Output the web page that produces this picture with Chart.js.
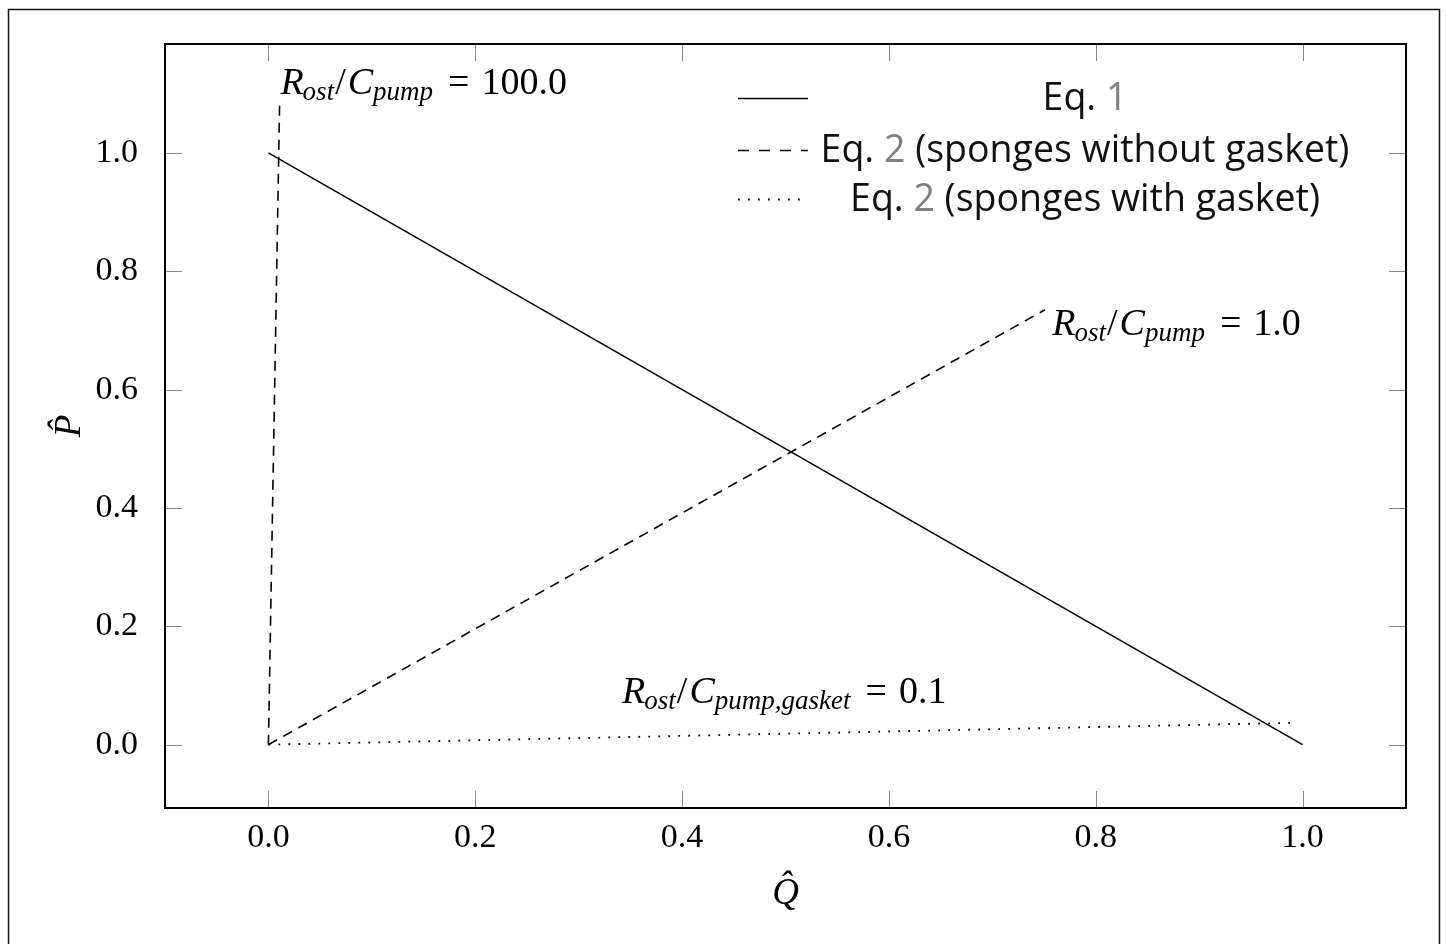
<!DOCTYPE html>
<html>
<head>
<meta charset="utf-8">
<script src="https://cdn.jsdelivr.net/npm/chart.js@4.4.0/dist/chart.umd.min.js"></script>
<style>
  html, body { margin: 0; padding: 0; background: #fff; }
</style>
</head>
<body>
<canvas id="chart" width="1446" height="944"></canvas>
<script>
// Eq. 1
const eq1Q = [0, 1];
const eq1P = [1, 0];
// Eq. 2 without gasket, R/C = 100
const steepQ = [0, 0.0108];
const steepP = [0, 1.08];
// Eq. 2 without gasket, R/C = 1
const midQ = [0, 0.751];
const midP = [0, 0.735];
// Eq. 2 with gasket, R/C = 0.1
const flatQ = [0, 0.993];
const flatP = [0, 0.037];

const xTicks = [0, 0.2, 0.4, 0.6, 0.8, 1.0];
const yTicks = [0, 0.2, 0.4, 0.6, 0.8, 1.0];

// legend: [before, gray number, after]
const legendLabels = [
  ['Eq. ', '1', ''],
  ['Eq. ', '2', ' (sponges without gasket)'],
  ['Eq. ', '2', ' (sponges with gasket)']
];

// annotations: anchor (data coords) + value text
const notes = [
  { q: 0.0116, p: 1.1, sub2: 'pump', val: '100.0' },
  { q: 0.758, p: 0.692, sub2: 'pump', val: '1.0' },
  { q: 0.342, p: 0.070, sub2: 'pump,gasket', val: '0.1' }
];

const toPts = (xs, ys) => xs.map((x, i) => ({ x: x, y: ys[i] }));

const SERIF = '"Liberation Serif", "Times New Roman", serif';
const SANS = '"Open Sans", "Noto Sans", sans-serif';

function drawMath(ctx, x, y, n) {
  const parts = [
    { t: 'R', it: true, gap: -1 },
    { t: 'ost', it: true, sub: true, gap: 1 },
    { t: '/', gap: 2 },
    { t: 'C', it: true },
    { t: n.sub2, it: true, sub: true, gap: 15 },
    { t: '=', gap: 12 },
    { t: n.val }
  ];
  let cx = x;
  ctx.fillStyle = '#000';
  ctx.textAlign = 'left';
  ctx.textBaseline = 'alphabetic';
  parts.forEach(p => {
    const size = p.sub ? 27 : 38;
    ctx.font = (p.it ? 'italic ' : '') + size + 'px ' + SERIF;
    ctx.fillText(p.t, cx, y + (p.sub ? 6 : 0));
    cx += ctx.measureText(p.t).width + (p.gap || 0);
  });
}

const extras = {
  id: 'extras',
  afterDraw(chart) {
    const ctx = chart.ctx;
    const a = chart.chartArea;
    const xs = chart.scales.x, ys = chart.scales.y;
    ctx.save();

    // outer frame
    ctx.strokeStyle = '#111';
    ctx.lineWidth = 1.5;
    ctx.strokeRect(8.5, 9.5, 1431, 960);

    // inside tick marks on all sides
    ctx.strokeStyle = '#888';
    ctx.lineWidth = 1;
    const tl = 17;
    xTicks.forEach(v => {
      const px = Math.round(xs.getPixelForValue(v)) + 0.5;
      ctx.beginPath();
      ctx.moveTo(px, a.bottom); ctx.lineTo(px, a.bottom - tl);
      ctx.moveTo(px, a.top); ctx.lineTo(px, a.top + tl);
      ctx.stroke();
    });
    yTicks.forEach(v => {
      const py = Math.round(ys.getPixelForValue(v)) + 0.5;
      ctx.beginPath();
      ctx.moveTo(a.left, py); ctx.lineTo(a.left + tl, py);
      ctx.moveTo(a.right, py); ctx.lineTo(a.right - tl, py);
      ctx.stroke();
    });

    // plot frame
    ctx.strokeStyle = '#000';
    ctx.lineWidth = 2;
    ctx.strokeRect(a.left, a.top, a.right - a.left, a.bottom - a.top);

    // legend
    const ds = chart.data.datasets;
    const rowY = [98, 150, 199];
    const sx0 = a.left + 573, sx1 = a.left + 643;
    const textCenter = a.left + 920;
    ctx.font = '37.5px ' + SANS;
    ctx.textBaseline = 'middle';
    ctx.textAlign = 'left';
    legendLabels.forEach((lab, i) => {
      const d = ds[i === 0 ? 0 : i + 1];
      ctx.save();
      ctx.strokeStyle = '#000';
      ctx.lineWidth = d.borderWidth;
      ctx.setLineDash(i === 1 ? [11, 10] : (d.borderDash || []));
      ctx.beginPath();
      ctx.moveTo(sx0, rowY[i] + 0.5); ctx.lineTo(sx1, rowY[i] + 0.5);
      ctx.stroke();
      ctx.restore();
      const w = lab.map(s => ctx.measureText(s).width);
      let cx = textCenter - (w[0] + w[1] + w[2]) / 2;
      lab.forEach((s, j) => {
        ctx.fillStyle = j === 1 ? '#808080' : '#111';
        ctx.fillText(s, cx, rowY[i] + 1);
        cx += w[j];
      });
    });

    // annotations
    notes.forEach(n => {
      drawMath(ctx, xs.getPixelForValue(n.q), ys.getPixelForValue(n.p), n);
    });
    ctx.restore();
  }
};

const lineDs = (pts, dash, width) => ({
  data: pts,
  showLine: true,
  borderColor: '#000',
  borderWidth: width,
  borderDash: dash,
  pointRadius: 0,
  fill: false
});

new Chart(document.getElementById('chart'), {
  type: 'scatter',
  data: {
    datasets: [
      lineDs(toPts(eq1Q, eq1P), [], 1.6),
      lineDs(toPts(steepQ, steepP), [10, 7], 1.6),
      lineDs(toPts(midQ, midP), [10, 7], 1.6),
      lineDs(toPts(flatQ, flatP), [1.8, 8.2], 1.8)
    ]
  },
  options: {
    responsive: false,
    animation: false,
    layout: { padding: { top: 44, right: 40, left: 0, bottom: 0 } },
    plugins: { legend: { display: false }, tooltip: { enabled: false } },
    scales: {
      x: {
        type: 'linear',
        min: -0.1,
        max: 1.1,
        grid: { display: false, drawTicks: false },
        border: { display: false },
        afterBuildTicks: s => { s.ticks = xTicks.map(v => ({ value: v })); },
        afterFit: s => { s.height = 136; s.paddingLeft = 0; s.paddingRight = 0; },
        ticks: {
          autoSkip: false,
          maxRotation: 0,
          padding: 10,
          color: '#000',
          font: { family: SERIF, size: 34 },
          callback: v => v.toFixed(1)
        },
        title: {
          display: true,
          text: 'Q\u0302',
          color: '#000',
          font: { family: SERIF, size: 37, style: 'italic' },
          padding: { top: 0, bottom: 28 }
        }
      },
      y: {
        type: 'linear',
        min: -0.107,
        max: 1.184,
        grid: { display: false, drawTicks: false },
        border: { display: false },
        afterBuildTicks: s => { s.ticks = yTicks.map(v => ({ value: v })); },
        afterFit: s => { s.width = 165; s.paddingTop = 0; s.paddingBottom = 0; },
        ticks: {
          autoSkip: false,
          padding: 27,
          color: '#000',
          font: { family: SERIF, size: 34 },
          callback: v => v.toFixed(1)
        },
        title: {
          display: true,
          text: 'P\u0302',
          color: '#000',
          font: { family: SERIF, size: 37, style: 'italic' },
          padding: { top: 48, bottom: 0 }
        }
      }
    }
  },
  plugins: [extras]
});
</script>
</body>
</html>
